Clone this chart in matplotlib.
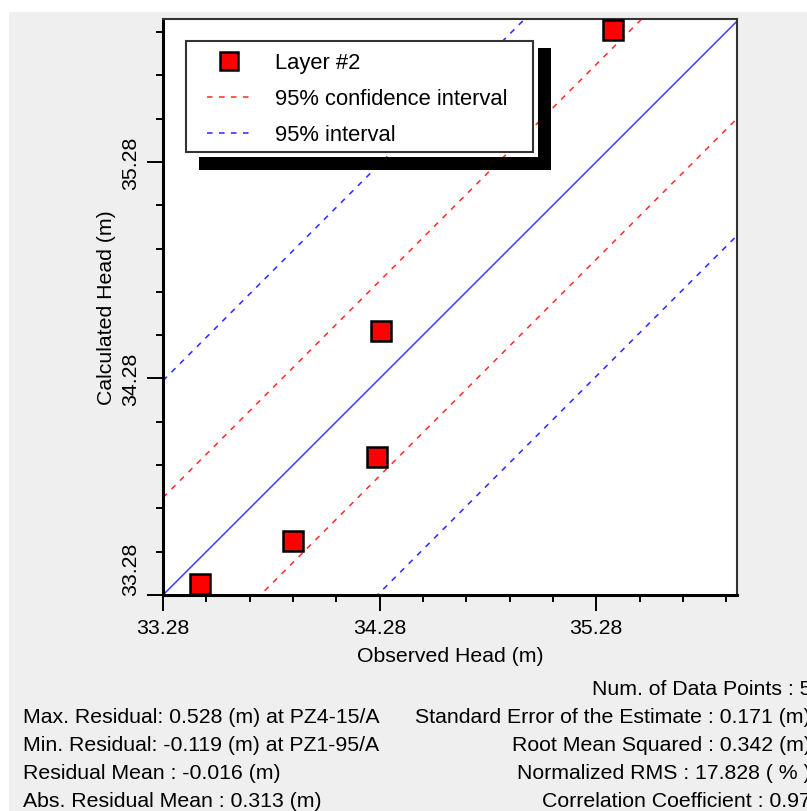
import numpy as np
import matplotlib.pyplot as plt
from matplotlib.lines import Line2D
from matplotlib.patches import Rectangle

plt.rcParams['font.family'] = ['Liberation Sans', 'DejaVu Sans']

# observed vs calculated heads (m), layer #2
observed = [33.449, 33.878, 34.266, 34.285, 35.356]
calculated = [33.330, 33.529, 33.915, 34.497, 35.887]

conf_offset = 0.45   # 95% confidence interval
pred_offset = 0.99   # 95% interval

x_lim = (33.28, 35.93)
y_lim = (33.28, 35.94)
major_ticks = [33.28, 34.28, 35.28]
tick_labels = ['33.28', '34.28', '35.28']
minor_ticks = [33.48, 33.68, 33.88, 34.08, 34.48, 34.68, 34.88, 35.08,
               35.48, 35.68, 35.88]

stats_left = ['Max. Residual: 0.528 (m) at PZ4-15/A',
              'Min. Residual: -0.119 (m) at PZ1-95/A',
              'Residual Mean : -0.016 (m)',
              'Abs. Residual Mean : 0.313 (m)']
stats_right = ['Num. of Data Points : 5',
               'Standard Error of the Estimate : 0.171 (m)',
               'Root Mean Squared : 0.342 (m)',
               'Normalized RMS : 17.828 ( % )',
               'Correlation Coefficient : 0.97']

W, H = 807, 812
FS = 15.3


def px(x, y):
    # pixel position (from top left) -> figure fraction
    return x / W, 1 - y / H


fig = plt.figure(figsize=(W / 100, H / 100), dpi=100, facecolor='#efefef')
fig.add_artist(Rectangle((0, 1 - 13 / H), 1, 13 / H, transform=fig.transFigure,
                         facecolor='white', edgecolor='none'))
fig.add_artist(Rectangle((0, 0), 9 / W, 1, transform=fig.transFigure,
                         facecolor='white', edgecolor='none'))

ax = fig.add_axes([163 / W, 1 - 596 / H, 574 / W, 576 / H])
ax.set_xlim(x_lim)
ax.set_ylim(y_lim)

xs = np.array(x_lim)
ax.plot(xs, xs, color='#3d3dff', lw=1.1, zorder=2)
for off in (conf_offset, -conf_offset):
    ax.plot(xs, xs + off, color='#ff3030', lw=1.15, ls=(0, (3.5, 4)), zorder=2)
for off in (pred_offset, -pred_offset):
    ax.plot(xs, xs + off, color='#3030ff', lw=1.15, ls=(0, (3.5, 4)), zorder=2)
ax.plot(observed, calculated, ls='none', marker='s', ms=15, mfc='#ff0000',
        mec='black', mew=1.8, zorder=3)

# axes styling
for side in ('left', 'bottom'):
    ax.spines[side].set_linewidth(2.2)
    ax.spines[side].set_color('black')
for side in ('top', 'right'):
    ax.spines[side].set_linewidth(1.5)
    ax.spines[side].set_color('#333333')

ax.set_xticks(major_ticks, tick_labels)
ax.set_yticks(major_ticks, tick_labels, rotation=90, va='center')
ax.get_yticklabels()[0].set_va('bottom')
ax.set_xticks(minor_ticks, minor=True)
ax.set_yticks(minor_ticks, minor=True)
ax.tick_params(which='major', length=11.5, width=1.4, pad=5, labelsize=FS,
               colors='black')
ax.tick_params(which='minor', length=5, width=1.4)

ax.set_xlabel('Observed Head (m)', fontsize=FS, labelpad=6.5)
ax.set_ylabel('Calculated Head (m)', fontsize=FS, labelpad=4)

# legend with a hard black shadow
handles = [
    Line2D([], [], ls='none', marker='s', ms=13, mfc='#ff0000', mec='black',
           mew=1.8, label='Layer #2'),
    Line2D([], [], color='#ff3030', lw=1.15, ls=(0, (3.5, 4)),
           label='95% confidence interval'),
    Line2D([], [], color='#3030ff', lw=1.15, ls=(0, (3.5, 4)),
           label='95% interval'),
]
ax.add_patch(Rectangle(px(538, 171), 13 / W, 122 / H, transform=fig.transFigure,
                       facecolor='black', edgecolor='none', zorder=4.4))
ax.add_patch(Rectangle(px(199, 171), 352 / W, 13 / H, transform=fig.transFigure,
                       facecolor='black', edgecolor='none', zorder=4.4))
ax.add_patch(Rectangle(px(186, 153), 347 / W, 111 / H, transform=fig.transFigure,
                       facecolor='white', edgecolor='#333333', lw=1.5,
                       zorder=4.5))
ax.legend(handles=handles, loc='upper left', bbox_to_anchor=px(207, 53.5),
          bbox_transform=fig.transFigure, frameon=False, borderpad=0,
          borderaxespad=0, handlelength=2.0, handletextpad=1.1,
          labelspacing=0.68, fontsize=15.8)

# summary statistics below the plot (right column runs past the edge, as in the source)
for i, s in enumerate(stats_left):
    fig.text(*px(23, 718 + 28 * i), s, fontsize=FS, ha='left', va='center')
for i, s in enumerate(stats_right):
    fig.text(*px(811, 690 + 28 * i), s, fontsize=FS, ha='right', va='center')

fig.savefig('out.png', dpi=100, facecolor=fig.get_facecolor())
